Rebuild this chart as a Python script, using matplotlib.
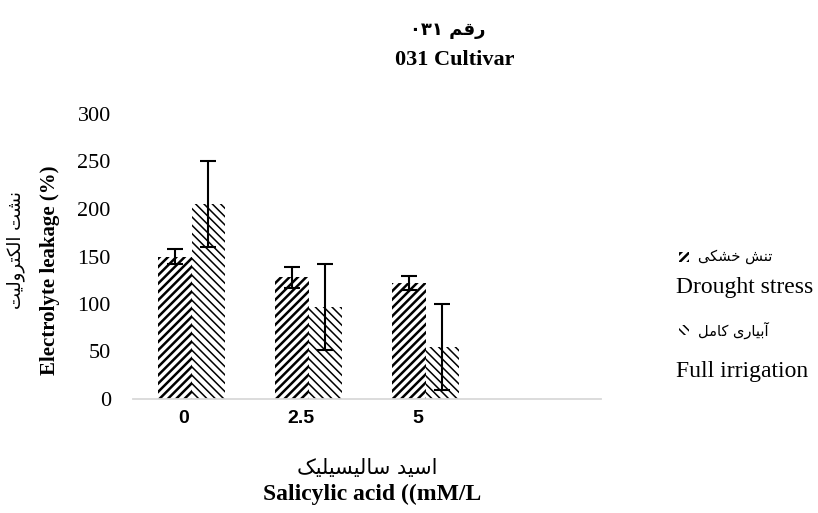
import re
import matplotlib
matplotlib.use("Agg")
import matplotlib.pyplot as plt
from matplotlib.patches import Rectangle
from matplotlib.transforms import ScaledTranslation
import numpy as np

# ---------------- data ----------------
categories = ["0", "2.5", "5"]
n_slots = 4  # category axis has one empty slot on the right
drought = [150, 128, 122]
drought_err = [8, 11, 7]
full_irr = [205, 97, 55]
full_irr_err = [45, 45, 45]

title_fa = "رقم ۰۳۱"
title_en = "031 Cultivar"
ylabel_fa = "نشت الکترولیت"
ylabel_en = "Electrolyte leakage (%)"
xlabel_fa = "اسید سالیسیلیک"
xlabel_en = "Salicylic acid ((mM/L"
legend_fa = ["تنش خشکی", "آبیاری کامل"]
legend_en = ["Drought stress", "Full irrigation"]
yticks = [0, 50, 100, 150, 200, 250, 300]

# ------------- Persian shaping (matplotlib has no Arabic shaping) -------------
FORMS = {
    'ا': ('\uFE8D', '\uFE8E', None, None),
    'آ': ('\uFE81', '\uFE82', None, None),
    'ب': ('\uFE8F', '\uFE90', '\uFE91', '\uFE92'),
    'ت': ('\uFE95', '\uFE96', '\uFE97', '\uFE98'),
    'خ': ('\uFEA5', '\uFEA6', '\uFEA7', '\uFEA8'),
    'د': ('\uFEA9', '\uFEAA', None, None),
    'ر': ('\uFEAD', '\uFEAE', None, None),
    'س': ('\uFEB1', '\uFEB2', '\uFEB3', '\uFEB4'),
    'ش': ('\uFEB5', '\uFEB6', '\uFEB7', '\uFEB8'),
    'ق': ('\uFED5', '\uFED6', '\uFED7', '\uFED8'),
    'ل': ('\uFEDD', '\uFEDE', '\uFEDF', '\uFEE0'),
    'م': ('\uFEE1', '\uFEE2', '\uFEE3', '\uFEE4'),
    'ن': ('\uFEE5', '\uFEE6', '\uFEE7', '\uFEE8'),
    'و': ('\uFEED', '\uFEEE', None, None),
    'ک': ('\uFB8E', '\uFB8F', '\uFB90', '\uFB91'),
    'ی': ('\uFBFC', '\uFBFD', '\uFBFE', '\uFBFF'),
}


def fa(s):
    out = []
    for i, ch in enumerate(s):
        if ch not in FORMS:
            out.append(ch)
            continue
        iso, fin, ini, med = FORMS[ch]
        prev = s[i - 1] if i > 0 else ''
        nxt = s[i + 1] if i + 1 < len(s) else ''
        jp = prev in FORMS and FORMS[prev][2] is not None
        jn = nxt in FORMS and ini is not None
        if jp and jn:
            out.append(med)
        elif jp:
            out.append(fin)
        elif jn:
            out.append(ini)
        else:
            out.append(iso)
    vis = ''.join(reversed(out))
    vis = re.sub(r'[0-9\u06F0-\u06F9]+', lambda m: m.group(0)[::-1], vis)
    return vis


SERIF = ['Liberation Serif', 'DejaVu Serif']
FAF = ['DejaVu Sans']
H_DRY, H_FULL = '////', '\\\\\\\\'
LW_DRY, LW_FULL = 1.8, 1.1

# ---------------- figure ----------------
fig = plt.figure(figsize=(8.18, 5.13), dpi=100)
ax = fig.add_axes([133 / 818, 1 - 399 / 513, (601 - 133) / 818, (399 - 114) / 513])

x = np.arange(len(categories))
w = 0.286

with plt.rc_context({'hatch.linewidth': LW_DRY}):
    b1 = ax.bar(x - w / 2, drought, w, facecolor='white', edgecolor='black',
                linewidth=0, hatch=H_DRY, zorder=2)
with plt.rc_context({'hatch.linewidth': LW_FULL}):
    b2 = ax.bar(x + w / 2, full_irr, w, facecolor='white', edgecolor='black',
                linewidth=0, hatch=H_FULL, zorder=2)
for p in b1:
    if hasattr(p, 'set_hatch_linewidth'):
        p.set_hatch_linewidth(LW_DRY)
for p in b2:
    if hasattr(p, 'set_hatch_linewidth'):
        p.set_hatch_linewidth(LW_FULL)

ax.errorbar(x - w / 2, drought, yerr=drought_err, fmt='none', ecolor='black',
            elinewidth=1.5, capsize=6, capthick=1.5, zorder=3)
ax.errorbar(x + w / 2, full_irr, yerr=full_irr_err, fmt='none', ecolor='black',
            elinewidth=1.5, capsize=6, capthick=1.5, zorder=3)

ax.set_xlim(-0.5, n_slots - 0.5)
ax.set_ylim(0, 300)
ax.set_yticks(yticks)
ax.set_yticklabels([str(t) for t in yticks], family=SERIF, fontsize=16)
ax.set_xticks(x)
ax.set_xticklabels(categories, family=['Liberation Sans'], fontweight='bold', fontsize=14)
ax.tick_params(axis='both', length=0)
ax.tick_params(axis='y', pad=16)
ax.tick_params(axis='x', pad=8)
off = ScaledTranslation(-0.08, 0, fig.dpi_scale_trans)
for lab in ax.get_xticklabels():
    lab.set_transform(lab.get_transform() + off)

for s in ['top', 'right', 'left']:
    ax.spines[s].set_visible(False)
ax.spines['bottom'].set_color('#d9d9d9')
ax.spines['bottom'].set_linewidth(1.3)

# titles and labels
fig.text(448 / 818, 1 - 30 / 513, fa(title_fa), family=FAF, fontweight='bold',
         fontsize=13, ha='center', va='center')
fig.text(455 / 818, 1 - 60 / 513, title_en, family=SERIF, fontweight='bold',
         fontsize=16, ha='center', va='center')
fig.text(50 / 818, 1 - 270 / 513, ylabel_en, family=SERIF, fontweight='bold',
         fontsize=15, rotation=90, ha='center', va='center')
fig.text(16 / 818, 1 - 250 / 513, fa(ylabel_fa), family=FAF,
         fontsize=13, rotation=90, ha='center', va='center')
fig.text(367 / 818, 1 - 468 / 513, fa(xlabel_fa), family=FAF,
         fontsize=15, ha='center', va='center')
fig.text(372 / 818, 1 - 494 / 513, xlabel_en, family=SERIF, fontweight='bold',
         fontsize=17, ha='center', va='center')

# legend
hatches = [H_DRY, H_FULL]
hlw = [LW_DRY, LW_FULL]
ys_fa = [257, 330]
ys_en = [288, 371]
for i in range(2):
    with plt.rc_context({'hatch.linewidth': hlw[i]}):
        r = Rectangle((679 / 818, 1 - (ys_fa[i] + 5) / 513), 10 / 818, 10 / 513,
                      transform=fig.transFigure, facecolor='white',
                      edgecolor='black', linewidth=0, hatch=hatches[i])
    if hasattr(r, 'set_hatch_linewidth'):
        r.set_hatch_linewidth(hlw[i])
    fig.add_artist(r)
    fig.text(698 / 818, 1 - ys_fa[i] / 513, fa(legend_fa[i]), family=FAF,
             fontsize=10.5, ha='left', va='center')
    fig.text(676 / 818, 1 - ys_en[i] / 513, legend_en[i], family=SERIF,
             fontsize=17, ha='left', va='center')

fig.savefig('out.png', dpi=100)
